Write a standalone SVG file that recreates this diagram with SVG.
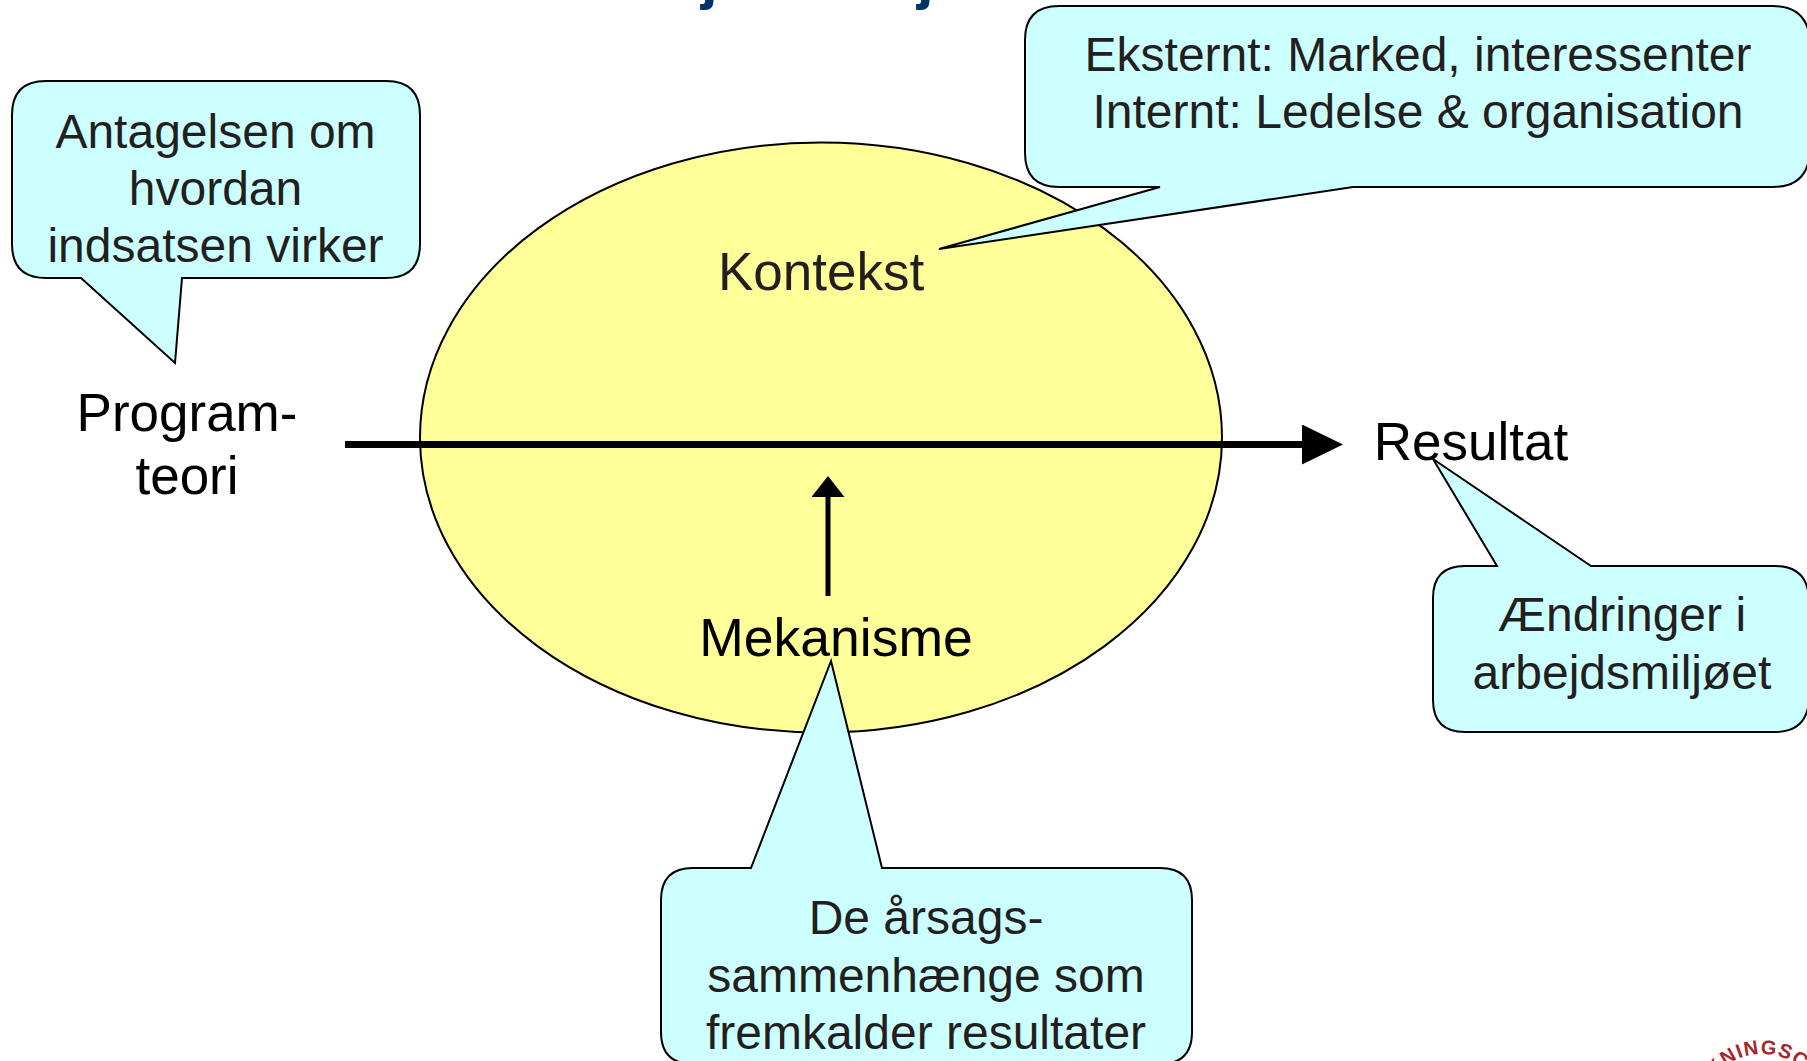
<svg xmlns="http://www.w3.org/2000/svg" width="1807" height="1061" viewBox="0 0 1807 1061">
<style>
text{font-family:"Liberation Sans",Arial,sans-serif}
.c{fill:#ccffff;stroke:#000;stroke-width:2;stroke-linejoin:miter}
.ct{font-size:48px;fill:#231f20;text-anchor:middle}
.lb{font-size:53px;fill:#000;text-anchor:middle}
.ar{fill:none;stroke:#000}
</style>
<defs>
<marker id="big" markerUnits="userSpaceOnUse" markerWidth="42" markerHeight="42" refX="2" refY="20" orient="auto"><path d="M0 0L41 20L0 40Z" fill="#000"/></marker>
<marker id="small" markerUnits="userSpaceOnUse" markerWidth="24" markerHeight="34" refX="2" refY="16.500" orient="auto"><path d="M0 0L21 16.500L0 33Z" fill="#000"/></marker>
<path id="logoarc" d="M1710 1084A60 60 0 0 1 1814 1084"/>
</defs>
<rect width="1807" height="1061" fill="#fff"/>
<g id="title-fragment"><text x="701" y="-2" font-size="60" font-weight="700" fill="#003366">j</text><text x="917" y="-2" font-size="60" font-weight="700" fill="#003366">j</text></g>
<g id="ellipse"><ellipse cx="821" cy="437.500" rx="401" ry="295" fill="#ffff99" stroke="#000" stroke-width="2"/></g>
<g id="connectors">
<path class="ar" d="M345 444.500H1304" stroke-width="7" marker-end="url(#big)"/>
<path class="ar" d="M828 596V495" stroke-width="5" marker-end="url(#small)"/>
</g>
<g id="kontekst"><text class="lb" x="821" y="290" style="fill:#231f20">Kontekst</text></g>
<g id="mekanisme"><text class="lb" x="836" y="656" style="font-size:53.500px">Mekanisme</text></g>
<g id="programteori"><text class="lb" x="187" y="431">Program-</text><text class="lb" x="187" y="494">teori</text></g>
<g id="resultat"><text class="lb" x="1471" y="460">Resultat</text></g>
<g id="callout-antagelse"><path class="c" d="M46 81H386Q420 81 420 115V244Q420 278 386 278H182L175 363L81 278H46Q12 278 12 244V115Q12 81 46 81Z"/>
<text class="ct" x="215.500" y="148">Antagelsen om</text><text class="ct" x="215.500" y="205">hvordan</text><text class="ct" x="215.500" y="262">indsatsen virker</text></g>
<g id="callout-kontekst"><path class="c" d="M1059 6H1773Q1807 6 1810 40V153Q1807 187 1773 187H1353L939 249L1160 187H1059Q1025 187 1025 153V40Q1025 6 1059 6Z"/>
<text class="ct" x="1418" y="71">Eksternt: Marked, interessenter</text><text class="ct" x="1418" y="128">Internt: Ledelse &amp; organisation</text></g>
<g id="callout-resultat"><path class="c" d="M1497 566L1433 459L1591 566H1775Q1807 566 1809 598V700Q1807 732 1775 732H1465Q1433 732 1433 700V598Q1433 566 1465 566Z"/>
<text class="ct" x="1622" y="631">Ændringer i</text><text class="ct" x="1622" y="689">arbejdsmiljøet</text></g>
<g id="callout-mekanisme"><path class="c" d="M751 868L831 661L882 868H1160Q1192 868 1192 900V1032Q1192 1064 1160 1064H693Q661 1064 661 1032V900Q661 868 693 868Z"/>
<text class="ct" x="926" y="934">De årsags-</text><text class="ct" x="926" y="992">sammenhænge som</text><text class="ct" x="926" y="1049">fremkalder resultater</text></g>
<g id="logo-fragment"><text font-size="20" font-weight="700" fill="#a6262c" letter-spacing="1"><textPath href="#logoarc" startOffset="8">KNINGSC</textPath></text></g>
</svg>
